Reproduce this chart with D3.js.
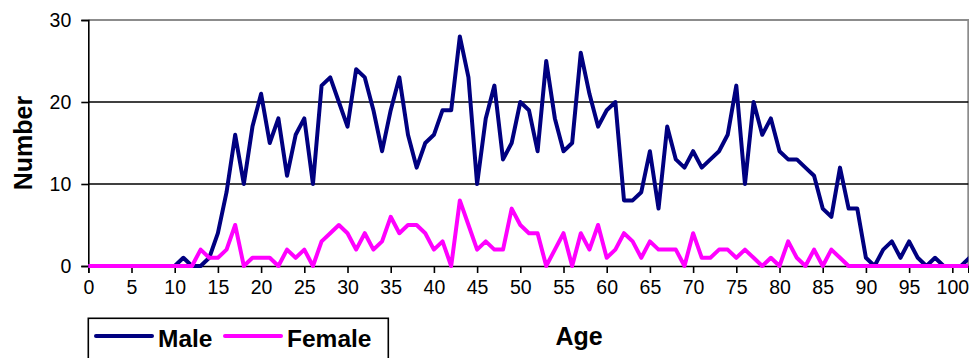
<!DOCTYPE html>
<html>
<head>
<meta charset="utf-8">
<script src="https://cdn.jsdelivr.net/npm/d3@7"></script>
<style>
  html, body { margin: 0; padding: 0; background: #fff; }
  svg { display: block; font-family: "Liberation Sans", Arial, sans-serif; }
</style>
</head>
<body>
<svg id="chart" width="969" height="358"></svg>
<script>
const ages = d3.range(0, 103);

// counts, index = age
const male = [
  0,0,0,0,0,0,0,0,0,0,0,1,0,0,1,4,9,16,10,17,
  21,15,18,11,16,18,10,22,23,20,17,24,23,19,14,19,23,16,12,15,
  16,19,19,28,23,10,18,22,13,15,20,19,14,25,18,14,15,26,21,17,
  19,20,8,8,9,14,7,17,13,12,14,12,13,14,16,22,10,20,16,18,
  14,13,13,12,11,7,6,12,7,7,1,0,2,3,1,3,1,0,1,0,
  0,0,1
];
const female = [
  0,0,0,0,0,0,0,0,0,0,0,0,0,2,1,1,2,5,0,1,
  1,1,0,2,1,2,0,3,4,5,4,2,4,2,3,6,4,5,5,4,
  2,3,0,8,5,2,3,2,2,7,5,4,4,0,2,4,0,4,2,5,
  1,2,4,3,1,3,2,2,2,0,4,1,1,2,2,1,2,1,0,1,
  0,3,1,0,2,0,2,1,0,0,0,0,0,0,0,0,0,0,0,0,
  0,0,0
];

const xTicks = d3.range(0, 101, 5);
const yTicks = [0, 10, 20, 30];

const seriesNames = ['Male', 'Female'];
const seriesColors = ['#000080', '#ff00ff'];

const LEFT = 88.3;
const RIGHT = 968.3;
const TOP = 20;
const BOTTOM = 266;

const svg = d3.select('#chart');

const x = d3.scaleLinear().domain([0, 101.85]).range([LEFT, RIGHT]);
const y = d3.scaleLinear().domain([0, 30]).range([BOTTOM, TOP]);

svg.append('defs').append('clipPath').attr('id', 'plot-clip')
  .append('rect')
  .attr('x', LEFT).attr('y', TOP - 5)
  .attr('width', RIGHT - LEFT).attr('height', BOTTOM - TOP + 10);

// plot frame: grey top and right border
svg.append('path')
  .attr('d', `M${LEFT},${y(30)}H${RIGHT}V${BOTTOM}`)
  .attr('fill', 'none')
  .attr('stroke', '#8c8c8c')
  .attr('stroke-width', 2);

// horizontal gridlines
svg.append('g')
  .selectAll('line')
  .data(yTicks.filter(t => t > 0 && t < 30))
  .join('line')
  .attr('x1', LEFT).attr('x2', RIGHT)
  .attr('y1', d => y(d)).attr('y2', d => y(d))
  .attr('stroke', '#000')
  .attr('stroke-width', 1.5);

// y axis
const yAxis = d3.axisLeft(y).tickValues(yTicks).tickSize(7).tickPadding(10);
const gy = svg.append('g').attr('transform', `translate(${LEFT},0)`).call(yAxis);
gy.select('.domain').attr('stroke', '#000').attr('stroke-width', 1.6);
gy.selectAll('.tick line').attr('stroke', '#000').attr('stroke-width', 1.6);
gy.selectAll('.tick text')
  .attr('font-size', '19.5px')
  .attr('font-family', '"Liberation Sans", Arial, sans-serif')
  .attr('fill', '#000');

// x axis
const xAxis = d3.axisBottom(x).tickValues(xTicks).tickSize(7).tickPadding(7);
const gx = svg.append('g').attr('transform', `translate(0,${BOTTOM})`).call(xAxis);
gx.select('.domain').attr('stroke', '#000').attr('stroke-width', 1.6);
gx.selectAll('.tick line').attr('stroke', '#000').attr('stroke-width', 1.6);
gx.selectAll('.tick text')
  .attr('font-size', '19.5px')
  .attr('font-family', '"Liberation Sans", Arial, sans-serif')
  .attr('fill', '#000');

// lines
const line = d3.line()
  .x((d, i) => x(ages[i]))
  .y(d => y(d));

const plot = svg.append('g').attr('clip-path', 'url(#plot-clip)');
[male, female].forEach((values, i) => {
  plot.append('path')
    .datum(values)
    .attr('d', line)
    .attr('fill', 'none')
    .attr('stroke', seriesColors[i])
    .attr('stroke-width', 4)
    .attr('stroke-linejoin', 'round')
    .attr('stroke-linecap', 'round');
});

// axis titles
svg.append('text')
  .attr('x', 579).attr('y', 345)
  .attr('text-anchor', 'middle')
  .attr('font-size', '25px')
  .attr('font-weight', 'bold')
  .text('Age');

svg.append('text')
  .attr('transform', 'translate(31.5,143) rotate(-90)')
  .attr('text-anchor', 'middle')
  .attr('font-size', '25px')
  .attr('font-weight', 'bold')
  .text('Number');

// legend
const legend = svg.append('g');
legend.append('rect')
  .attr('x', 88.3).attr('y', 318.3)
  .attr('width', 300).attr('height', 60)
  .attr('fill', '#fff')
  .attr('stroke', '#000')
  .attr('stroke-width', 1.6);

const legendX = [96, 225];
seriesNames.forEach((name, i) => {
  legend.append('line')
    .attr('x1', legendX[i]).attr('x2', legendX[i] + 56)
    .attr('y1', 336).attr('y2', 336)
    .attr('stroke', seriesColors[i])
    .attr('stroke-width', 4)
    .attr('stroke-linecap', 'round');
  legend.append('text')
    .attr('x', legendX[i] + 62).attr('y', 346.5)
    .attr('font-size', '24.5px')
    .attr('font-weight', 'bold')
    .text(name);
});
</script>
</body>
</html>
